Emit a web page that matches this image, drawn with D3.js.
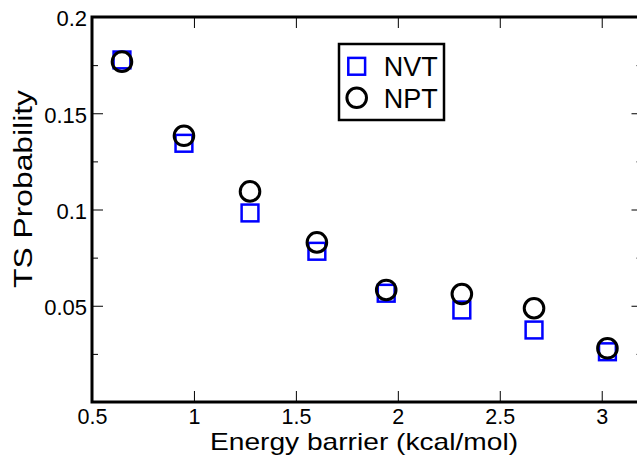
<!DOCTYPE html>
<html>
<head>
<meta charset="utf-8">
<script src="https://cdn.jsdelivr.net/npm/d3@7/dist/d3.min.js"></script>
<style>
  html, body { margin: 0; padding: 0; background: #fff; }
  svg { display: block; font-family: "Liberation Sans", Arial, Helvetica, sans-serif; }
</style>
</head>
<body>
<svg id="chart" width="637" height="455"></svg>
<script>
// ---- data ----
const energy = [0.647, 0.951, 1.275, 1.603, 1.943, 2.314, 2.668, 3.028];
const nvt    = [0.1777, 0.1344, 0.0982, 0.0783, 0.0565, 0.0478, 0.0374, 0.0261];
const npt    = [0.1768, 0.1383, 0.1094, 0.0829, 0.0582, 0.0561, 0.0487, 0.0279];
const xTicks = [0.5, 1, 1.5, 2, 2.5, 3];
const xTickLabels = ["0.5", "1", "1.5", "2", "2.5", "3"];
const yTicks = [0.05, 0.1, 0.15, 0.2];
const yTickLabels = ["0.05", "0.1", "0.15", "0.2"];
const yMinorTicks = [0.025, 0.075, 0.125, 0.175];
const seriesNames = ["NVT", "NPT"];

// ---- layout ----
const svg = d3.select("#chart");
const pL = 92, pR = 642.5, pT = 17, pB = 402;
const x = d3.scaleLinear().domain([0.5, 3.2]).range([pL, pR]);
const y = d3.scaleLinear().domain([0, 0.2]).range([pB, pT]);

function styleAxis(g) {
  g.select(".domain").remove();
  g.selectAll(".tick line").attr("stroke", "#000").attr("stroke-width", 1);
  g.selectAll(".tick text").attr("fill", "#000")
    .style("font-family", "'Liberation Sans', Arial, Helvetica, sans-serif");
}

// bottom axis
svg.append("g").attr("transform", `translate(0,${pB})`)
  .call(d3.axisBottom(x).tickValues(xTicks)
    .tickFormat((d, i) => xTickLabels[i]).tickSize(-11).tickPadding(7))
  .call(styleAxis)
  .call(g => g.selectAll(".tick text").style("font-size", "21.5px"));

// top axis
svg.append("g").attr("transform", `translate(0,${pT})`)
  .call(d3.axisTop(x).tickValues(xTicks).tickFormat("").tickSize(-11))
  .call(styleAxis);

// left axis
svg.append("g").attr("transform", `translate(${pL},0)`)
  .call(d3.axisLeft(y).tickValues(yTicks)
    .tickFormat((d, i) => yTickLabels[i]).tickSize(-11).tickPadding(5))
  .call(styleAxis)
  .call(g => g.selectAll(".tick text").style("font-size", "22px").attr("dy", "0.4em"));
svg.append("g").attr("transform", `translate(${pL},0)`)
  .call(d3.axisLeft(y).tickValues(yMinorTicks).tickFormat("").tickSize(-6))
  .call(styleAxis);

// right axis
svg.append("g").attr("transform", `translate(${pR},0)`)
  .call(d3.axisRight(y).tickValues(yTicks).tickFormat("").tickSize(-11))
  .call(styleAxis);
svg.append("g").attr("transform", `translate(${pR},0)`)
  .call(d3.axisRight(y).tickValues(yMinorTicks).tickFormat("").tickSize(-6))
  .call(styleAxis);

// frame
svg.append("rect")
  .attr("x", pL).attr("y", pT)
  .attr("width", pR - pL).attr("height", pB - pT)
  .attr("fill", "none").attr("stroke", "#000").attr("stroke-width", 3);

// ---- markers ----
const sq = 16.8, r = 9.8;
const pts = energy.map((e, i) => ({ e, nvt: nvt[i], npt: npt[i] }));

svg.append("g").selectAll("rect").data(pts).join("rect")
  .attr("x", d => x(d.e) - sq / 2).attr("y", d => y(d.nvt) - sq / 2)
  .attr("width", sq).attr("height", sq)
  .attr("fill", "none").attr("stroke", "#0000ff").attr("stroke-width", 2.5);

svg.append("g").selectAll("circle").data(pts).join("circle")
  .attr("cx", d => x(d.e)).attr("cy", d => y(d.npt)).attr("r", r)
  .attr("fill", "none").attr("stroke", "#000").attr("stroke-width", 3);

// ---- legend ----
const lg = svg.append("g");
lg.append("rect").attr("x", 339).attr("y", 44).attr("width", 105).attr("height", 76)
  .attr("fill", "#fff").attr("stroke", "#000").attr("stroke-width", 2.5);
lg.append("rect").attr("x", 356.7 - sq / 2).attr("y", 66.3 - sq / 2)
  .attr("width", sq).attr("height", sq)
  .attr("fill", "none").attr("stroke", "#0000ff").attr("stroke-width", 2.5);
lg.append("circle").attr("cx", 356.7).attr("cy", 97.8).attr("r", r)
  .attr("fill", "none").attr("stroke", "#000").attr("stroke-width", 3);
lg.append("text").attr("x", 383.7).attr("y", 76).text(seriesNames[0])
  .style("font-size", "27px").attr("fill", "#000");
lg.append("text").attr("x", 383.7).attr("y", 108.3).text(seriesNames[1])
  .style("font-size", "27px").attr("fill", "#000");

// ---- titles ----
svg.append("text")
  .attr("x", 364).attr("y", 450).attr("text-anchor", "middle")
  .attr("textLength", 308).attr("lengthAdjust", "spacingAndGlyphs")
  .style("font-size", "24px").attr("fill", "#000")
  .text("Energy barrier (kcal/mol)");

svg.append("text")
  .attr("transform", "translate(31.5,189) rotate(-90)")
  .attr("text-anchor", "middle")
  .attr("textLength", 198).attr("lengthAdjust", "spacingAndGlyphs")
  .style("font-size", "25px").attr("fill", "#000")
  .text("TS Probability");
</script>
</body>
</html>
